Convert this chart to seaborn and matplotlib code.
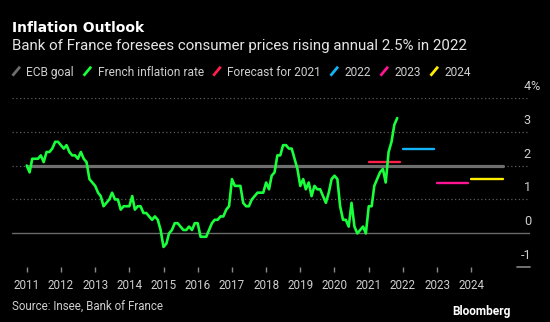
import matplotlib
matplotlib.use("Agg")
import matplotlib.pyplot as plt
import matplotlib.transforms as mtransforms
from matplotlib.lines import Line2D
import matplotlib.dates as mdates
import numpy as np
import pandas as pd
import seaborn as sns

# ---------------- data ----------------
start_month = "2011-01-01"
infl_2011 = [2.0, 1.8, 2.2, 2.2, 2.2, 2.3, 2.1, 2.4, 2.4, 2.5, 2.7, 2.7]
infl_2012 = [2.6, 2.5, 2.6, 2.4, 2.3, 2.3, 2.2, 2.4, 2.2, 2.1, 1.6, 1.5]
infl_2013 = [1.4, 1.2, 1.1, 0.8, 0.9, 1.0, 1.2, 1.0, 1.0, 0.7, 0.8, 0.8]
infl_2014 = [0.8, 1.1, 0.7, 0.8, 0.8, 0.6, 0.6, 0.5, 0.4, 0.5, 0.4, 0.1]
infl_2015 = [-0.4, -0.3, 0.0, 0.1, 0.3, 0.3, 0.2, 0.1, 0.1, 0.2, 0.1, 0.3]
infl_2016 = [0.3, -0.1, -0.1, -0.1, 0.1, 0.3, 0.4, 0.4, 0.5, 0.5, 0.7, 0.8]
infl_2017 = [1.6, 1.4, 1.4, 1.4, 0.9, 0.8, 0.8, 1.0, 1.1, 1.2, 1.2, 1.2]
infl_2018 = [1.5, 1.3, 1.7, 1.8, 2.3, 2.3, 2.6, 2.6, 2.5, 2.5, 2.2, 1.9]
infl_2019 = [1.4, 1.6, 1.3, 1.5, 1.1, 1.4, 1.3, 1.3, 1.1, 0.9, 1.2, 1.6]
infl_2020 = [1.7, 1.6, 0.8, 0.4, 0.4, 0.2, 0.9, 0.2, 0.0, 0.1, 0.2, 0.0]
infl_2021 = [0.8, 0.8, 1.4, 1.6, 1.8, 1.9, 1.5, 2.4, 2.7, 3.2, 3.4]

ecb_goal = 2.0
ecb_start, ecb_end = "2011-01-01", "2024-12-01"

forecast_years = [2021, 2022, 2023, 2024]
forecast_values = [2.1, 2.5, 1.5, 1.6]

legend_labels = ["ECB goal", "French inflation rate", "Forecast for 2021", "2022", "2023", "2024"]
legend_colors = ["#6e6e6e", "#19ff3c", "#ff1f4b", "#12b4f5", "#ff1493", "#ffee00"]

year_ticks = list(range(2011, 2025))
y_ticks = [-1, 0, 1, 2, 3, 4]

title = "Inflation Outlook"
subtitle = "Bank of France foresees consumer prices rising annual 2.5% in 2022"
source = "Source: Insee, Bank of France"
brand = "Bloomberg"

# ---------------- style ----------------
sns.set_theme(style="dark")
plt.rcParams["font.family"] = ["Roboto", "DejaVu Sans"]
TXT = "#cfcfcf"

W, H = 550, 322
fig = plt.figure(figsize=(W / 100, H / 100), dpi=100, facecolor="black")

def fx(px):
    return px / W

def fy(py):
    return 1 - py / H

ax_left, ax_right, ax_top, ax_bot = 12, 530, 97.7, 267.3
ax = fig.add_axes([fx(ax_left), fy(ax_bot), fx(ax_right - ax_left), (ax_bot - ax_top) / H])
ax.set_facecolor("black")
for s in ax.spines.values():
    s.set_visible(False)

infl_values = (infl_2011 + infl_2012 + infl_2013 + infl_2014 + infl_2015 + infl_2016
               + infl_2017 + infl_2018 + infl_2019 + infl_2020 + infl_2021)
dates = pd.date_range(start_month, periods=len(infl_values), freq="MS")
df = pd.DataFrame({"date": dates, "value": infl_values})

# grid lines
for v in [1, 2, 3, 4]:
    ax.axhline(v, color="#5c5c5c", lw=0.9, ls=(0, (1, 2)), zorder=1)
ax.axhline(0, color="#6a6a6a", lw=1.0, zorder=1)
blend = mtransforms.blended_transform_factory(ax.transAxes, ax.transData)
ax.plot([0.975, 1.0], [-1, -1], transform=blend, color="#7a7a7a", lw=1.3, clip_on=False)

# ECB goal
ecb_df = pd.DataFrame({"date": pd.to_datetime([ecb_start, ecb_end]), "value": [ecb_goal, ecb_goal]})
sns.lineplot(data=ecb_df, x="date", y="value", ax=ax, color=legend_colors[0], lw=2.3, zorder=2)

# forecasts
for yr, val, col in zip(forecast_years, forecast_values, legend_colors[2:]):
    fdf = pd.DataFrame({"date": pd.to_datetime([f"{yr}-01-01", f"{yr}-12-01"]), "value": [val, val]})
    sns.lineplot(data=fdf, x="date", y="value", ax=ax, color=col, lw=1.7, zorder=3)

# French inflation
sns.lineplot(data=df, x="date", y="value", ax=ax, color=legend_colors[1], lw=1.9, zorder=4)

# axes limits
base = mdates.date2num(pd.Timestamp("2011-01-01"))
ax.set_xlim(base - 157, base + 5375)
ax.set_ylim(-1, 4)
ax.set_xlabel("")
ax.set_ylabel("")
ax.set_yticks([])
ax.grid(False)

ax.set_xticks([mdates.date2num(pd.Timestamp(f"{y}-01-01")) for y in year_ticks])
ax.set_xticklabels([str(y) for y in year_ticks])
ax.tick_params(axis="x", bottom=True, length=3.6, width=1.0, color="#8a8a8a",
               labelcolor=TXT, labelsize=8.4, pad=4.5)

# y labels (right side, above gridlines)
for v in y_ticks:
    ax.text(1.002, v + 0.34, str(v), transform=blend, ha="right", va="center",
            color=TXT, fontsize=9.2, clip_on=False)
    if v == max(y_ticks):
        ax.text(1.0, v + 0.34, "%", transform=blend, ha="left", va="center",
                color=TXT, fontsize=9.2, clip_on=False)

# titles
fig.text(fx(12), fy(32.3), title, color="white", fontsize=10.0, fontweight="bold",
         va="baseline", family=["DejaVu Sans"])
fig.text(fx(12), fy(50.3), subtitle, color="#e6e6e6", fontsize=10.8, va="baseline")

# legend
renderer = fig.canvas.get_renderer()
cur = 12.0
base_y = 75.7
for lab, col in zip(legend_labels, legend_colors):
    fig.add_artist(Line2D([fx(cur + 0.5), fx(cur + 8)], [fy(base_y), fy(base_y - 9)],
                          transform=fig.transFigure, color=col, lw=2.0, solid_capstyle="butt"))
    t = fig.text(fx(cur + 14.5), fy(base_y), lab, color=TXT, fontsize=8.55, va="baseline")
    bb = t.get_window_extent(renderer=renderer)
    cur = bb.x1 + 9

# footer
fig.text(fx(12), fy(310), source, color=TXT, fontsize=8.3, va="baseline")
fig.text(fx(511), fy(315), brand, color="white", fontsize=8.6, fontweight="bold",
         va="baseline", ha="right")

fig.savefig("out.png", dpi=100, facecolor="black")
